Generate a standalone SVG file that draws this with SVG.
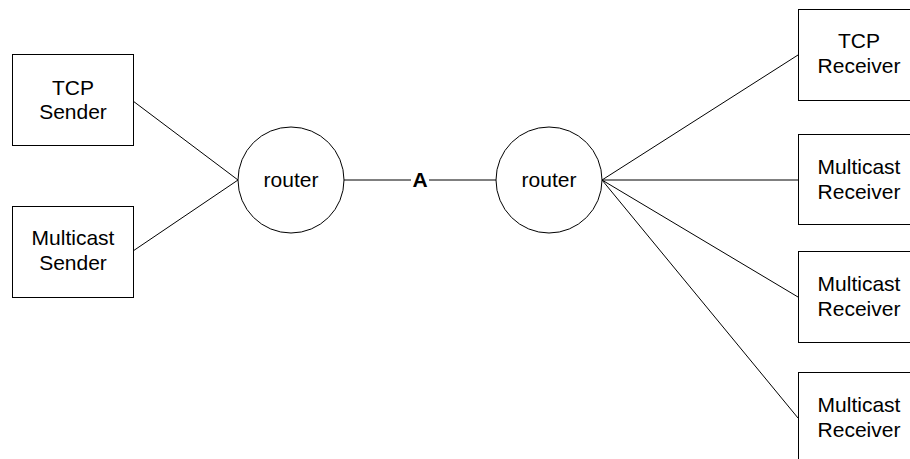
<svg xmlns="http://www.w3.org/2000/svg" width="910" height="459" viewBox="0 0 910 459">
  <style>
    .box { fill: #fff; stroke: #000; stroke-width: 1; }
    .node { fill: #fff; stroke: #000; stroke-width: 1; }
    .link { stroke: #000; stroke-width: 1; fill: none; }
    text { font-family: "Liberation Sans", Arial, sans-serif; font-size: 21px; fill: #000; text-anchor: middle; }
    .bold { font-weight: bold; }
  </style>
  <rect width="910" height="459" fill="#fff"/>

  <g id="connectors">
    <line class="link" x1="133" y1="101" x2="238" y2="180"/>
    <line class="link" x1="133" y1="251" x2="238" y2="180"/>
    <line class="link" x1="344" y1="180" x2="411" y2="180"/>
    <line class="link" x1="429" y1="180" x2="496" y2="180"/>
    <line class="link" x1="602" y1="180" x2="798" y2="55"/>
    <line class="link" x1="602" y1="180" x2="798" y2="180"/>
    <line class="link" x1="602" y1="180" x2="798" y2="297"/>
    <line class="link" x1="602" y1="180" x2="798" y2="418"/>
    <text class="bold" x="420" y="187">A</text>
  </g>

  <g id="tcp-sender">
    <rect class="box" x="12.5" y="54.5" width="121" height="91"/>
    <text x="73" y="95">TCP</text>
    <text x="73" y="119">Sender</text>
  </g>

  <g id="multicast-sender">
    <rect class="box" x="12.5" y="206.5" width="121" height="91"/>
    <text x="73" y="245">Multicast</text>
    <text x="73" y="270">Sender</text>
  </g>

  <g id="router-left">
    <circle class="node" cx="291" cy="180" r="53"/>
    <text x="291" y="187">router</text>
  </g>

  <g id="router-right">
    <circle class="node" cx="549" cy="180" r="53"/>
    <text x="549" y="187">router</text>
  </g>

  <g id="tcp-receiver">
    <rect class="box" x="798.5" y="9.5" width="121" height="91"/>
    <text x="859" y="48">TCP</text>
    <text x="859" y="73">Receiver</text>
  </g>

  <g id="multicast-receiver-1">
    <rect class="box" x="798.5" y="134.5" width="121" height="90"/>
    <text x="859" y="174">Multicast</text>
    <text x="859" y="199">Receiver</text>
  </g>

  <g id="multicast-receiver-2">
    <rect class="box" x="798.5" y="251.5" width="121" height="91"/>
    <text x="859" y="291">Multicast</text>
    <text x="859" y="316">Receiver</text>
  </g>

  <g id="multicast-receiver-3">
    <rect class="box" x="798.5" y="372.5" width="121" height="91"/>
    <text x="859" y="412">Multicast</text>
    <text x="859" y="437">Receiver</text>
  </g>
</svg>
